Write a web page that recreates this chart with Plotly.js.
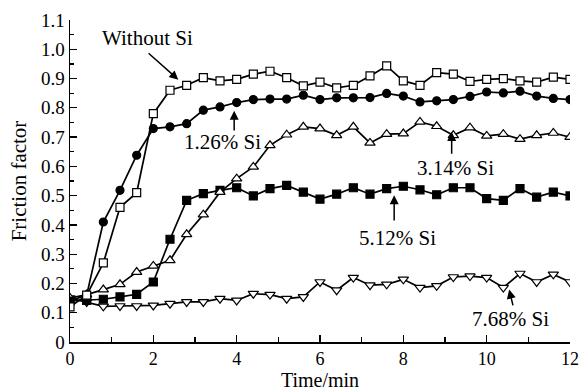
<!DOCTYPE html>
<html>
<head>
<meta charset="utf-8">
<script src="https://cdn.plot.ly/plotly-3.0.1.min.js"></script>
<style>html,body{margin:0;padding:0;background:#fff;}#chart{width:584px;height:392px;}</style>
</head>
<body>
<div id="chart"></div>
<script>
const time = [0,0.4,0.8,1.2,1.6,2.0,2.4,2.8,3.2,3.6,4.0,4.4,4.8,5.2,5.6,6.0,6.4,6.8,7.2,7.6,8.0,8.4,8.8,9.2,9.6,10.0,10.4,10.8,11.2,11.6,12.0];
const withoutSi = [0.12,0.16,0.27,0.46,0.51,0.78,0.86,0.877,0.903,0.892,0.897,0.915,0.925,0.903,0.875,0.888,0.868,0.877,0.909,0.943,0.892,0.877,0.92,0.915,0.89,0.897,0.90,0.892,0.888,0.905,0.897];
const si126 = [0.14,0.16,0.41,0.518,0.638,0.729,0.735,0.746,0.792,0.803,0.818,0.828,0.83,0.83,0.843,0.828,0.834,0.834,0.835,0.849,0.84,0.82,0.824,0.828,0.839,0.854,0.851,0.857,0.84,0.832,0.828];
const si314 = [0.15,0.162,0.179,0.197,0.239,0.26,0.279,0.368,0.435,0.512,0.558,0.598,0.672,0.708,0.735,0.729,0.706,0.735,0.68,0.71,0.712,0.752,0.737,0.706,0.732,0.704,0.71,0.693,0.706,0.714,0.70];
const si512 = [0.14,0.142,0.146,0.154,0.163,0.205,0.351,0.484,0.507,0.518,0.527,0.499,0.524,0.535,0.512,0.488,0.505,0.527,0.505,0.524,0.532,0.52,0.503,0.527,0.527,0.49,0.484,0.524,0.495,0.512,0.499];
const si768 = [0.15,0.137,0.122,0.123,0.123,0.125,0.131,0.137,0.137,0.148,0.142,0.165,0.162,0.148,0.154,0.205,0.177,0.22,0.194,0.197,0.214,0.186,0.192,0.222,0.225,0.22,0.186,0.234,0.205,0.231,0.205];
const yTickVals = [0,0.1,0.2,0.3,0.4,0.5,0.6,0.7,0.8,0.9,1.0,1.1];
const yTickText = ["0","0.1","0.2","0.3","0.4","0.5","0.6","0.7","0.8","0.9","1.0","1.1"];
const xTickVals = [0,2,4,6,8,10,12];
const xTickText = ["0","2","4","6","8","10","12"];

const FONT = "Liberation Serif, Times New Roman, serif";
function series(y, symbol, filled, size, name) {
  return {
    x: time, y: y, name: name, type: 'scatter', mode: 'lines+markers',
    line: {color: '#000', width: 1.7},
    marker: {symbol: symbol, size: size, color: filled ? '#000' : '#fff', line: {color: '#000', width: 1.2}},
    cliponaxis: true, showlegend: false
  };
}
const data = [
  series(si768, 'triangle-down', false, 9, '7.68% Si'),
  series(si512, 'square', true, 8, '5.12% Si'),
  series(si314, 'triangle-up', false, 9, '3.14% Si'),
  series(si126, 'circle', true, 8, '1.26% Si'),
  series(withoutSi, 'square', false, 8, 'Without Si')
];

function label(text, x, y) {
  return {text: text, x: x, y: y, xref: 'x', yref: 'y', showarrow: false, font: {family: FONT, size: 21, color: '#000'}};
}
function arrow(x, y, ax, ay) {
  return {text: '', x: x, y: y, ax: ax, ay: ay, xref: 'x', yref: 'y', axref: 'x', ayref: 'y',
    showarrow: true, arrowhead: 2, arrowsize: 1.2, arrowwidth: 1.5, arrowcolor: '#000'};
}
const annotations = [
  label('Without Si', 1.85, 1.039), arrow(2.6, 0.896, 1.85, 0.991),
  label('1.26% Si', 3.65, 0.682), arrow(3.94, 0.79, 3.94, 0.717),
  label('3.14% Si', 9.25, 0.593), arrow(9.16, 0.717, 9.16, 0.638),
  label('5.12% Si', 7.86, 0.354), arrow(7.78, 0.501, 7.78, 0.41),
  label('7.68% Si', 10.57, 0.079), arrow(10.54, 0.179, 10.64, 0.12)
];

const layout = {
  width: 584, height: 392,
  margin: {l: 70, r: 14, t: 20, b: 50},
  paper_bgcolor: '#fff', plot_bgcolor: '#fff',
  font: {family: FONT, size: 19, color: '#000'},
  xaxis: {
    range: [0, 12], showgrid: false, zeroline: false,
    showline: true, linecolor: '#000', linewidth: 1.5,
    tickmode: 'array', tickvals: xTickVals, ticktext: xTickText,
    ticks: 'inside', ticklen: 7, tickwidth: 1.2, tickcolor: '#000',
    minor: {tickmode: 'linear', tick0: 0, dtick: 1, ticks: 'inside', ticklen: 5, tickwidth: 1.2, tickcolor: '#000'},
    tickfont: {family: FONT, size: 18, color: '#000'},
    title: {text: 'Time/min', font: {family: FONT, size: 20, color: '#000'}, standoff: 4}
  },
  yaxis: {
    range: [0, 1.1], showgrid: false, zeroline: false,
    showline: true, linecolor: '#000', linewidth: 1.5,
    tickmode: 'array', tickvals: yTickVals, ticktext: yTickText,
    ticks: 'inside', ticklen: 7, tickwidth: 1.2, tickcolor: '#000',
    minor: {tickmode: 'linear', tick0: 0, dtick: 0.05, ticks: 'inside', ticklen: 4, tickwidth: 1.2, tickcolor: '#000'},
    tickfont: {family: FONT, size: 19, color: '#000'},
    title: {text: 'Friction factor', font: {family: FONT, size: 21, color: '#000'}, standoff: 8}
  },
  annotations: annotations
};
Plotly.newPlot('chart', data, layout, {displayModeBar: false, staticPlot: true});
</script>
</body>
</html>
